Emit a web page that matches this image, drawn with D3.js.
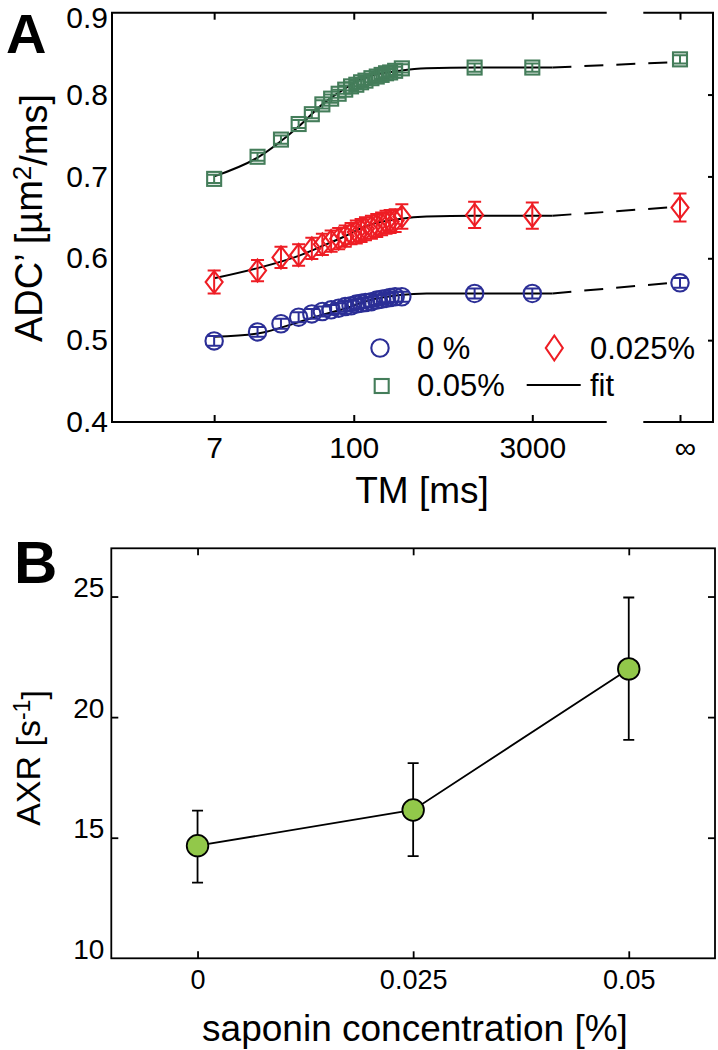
<!DOCTYPE html>
<html><head><meta charset="utf-8">
<script src="https://cdn.jsdelivr.net/npm/d3@7"></script>
<style>
body{margin:0;background:#fff}
svg{display:block}
text{font-family:"Liberation Sans",Arial,Helvetica,sans-serif;fill:#000}
</style>
</head><body>
<svg id="c" width="718" height="1050"></svg>
<script>
// ---------- Panel A data ----------
const tmValues = [7,16,25,35,45,55,65,75,85,95,105,115,125,140,155,170,185,200,220,250,1000,3000,Infinity];
const adc0   = [0.499,0.510,0.520,0.528,0.532,0.535,0.537,0.539,0.541,0.542,0.544,0.545,0.546,0.547,0.549,0.550,0.551,0.552,0.553,0.553,0.557,0.557,0.570];
const err0   = [0.006,0.006,0.006,0.006,0.006,0.006,0.006,0.006,0.006,0.006,0.006,0.006,0.006,0.006,0.006,0.006,0.006,0.006,0.006,0.006,0.006,0.006,0.006];
const adc025 = [0.571,0.585,0.601,0.604,0.612,0.617,0.621,0.624,0.627,0.630,0.632,0.634,0.636,0.638,0.640,0.642,0.644,0.645,0.646,0.651,0.653,0.652,0.662];
const err025 = [0.014,0.013,0.013,0.013,0.013,0.013,0.013,0.013,0.013,0.013,0.014,0.014,0.014,0.014,0.014,0.014,0.014,0.014,0.014,0.015,0.016,0.016,0.017];
const adc05  = [0.697,0.724,0.745,0.764,0.776,0.788,0.795,0.801,0.806,0.810,0.812,0.815,0.817,0.820,0.822,0.824,0.826,0.827,0.829,0.832,0.833,0.833,0.843];
const err05  = [0.005,0.005,0.005,0.005,0.005,0.005,0.005,0.005,0.005,0.005,0.005,0.005,0.005,0.005,0.005,0.005,0.005,0.005,0.005,0.005,0.005,0.005,0.005];

const fitTM    = [7,16,35,55,82,130,240,400,1000,4400];
const fit0     = [0.504,0.508,0.522,0.531,0.538,0.548,0.555,0.557,0.557,0.557];
const fit025   = [0.5755,0.588,0.603,0.615,0.626,0.640,0.648,0.651,0.652,0.652];
const fit05    = [0.700,0.723,0.761,0.788,0.806,0.822,0.829,0.832,0.833,0.833];
const fitInf   = [0.571,0.663,0.840];   // 0%, 0.025%, 0.05% at TM = ∞

const xTicksA = [7,100,3000];
const yTicksA = [0.4,0.5,0.6,0.7,0.8,0.9];
const seriesNames = ["0 %","0.025%","0.05%"];
const colors = ["#2b2e96","#ee1d24","#447d5a"];

// ---------- Panel B data ----------
const conc    = [0, 0.025, 0.05];
const axr     = [14.67, 16.15, 22.0];
const axrLow  = [13.14, 14.24, 19.06];
const axrHigh = [16.12, 18.09, 24.96];
const xTicksB = [0, 0.025, 0.05];
const xTickLabelsB = ["0","0.025","0.05"];
const yTicksB = [10,15,20,25];

// ---------- Drawing ----------
const svg = d3.select("#c");

// Panel A geometry
const A = {l:112, r:713, t:12.7, b:422, breakL:606.7, breakR:643.3, infX:680};
const xA = d3.scaleLog().domain([1,3000]).range([A.l, 532.3]);
const xInf = d3.scalePoint().domain(["∞"]).range([A.infX, A.infX]);
const yA = d3.scaleLinear().domain([0.4,0.9]).range([A.b, A.t]);
const xPos = d => isFinite(d) ? xA(d) : xInf("∞");

const gA = svg.append("g");

// frame (broken x axis)
const frame = gA.append("g").attr("stroke","#000").attr("stroke-width",2).attr("fill","none");
frame.append("path").attr("d",`M${A.breakL},${A.t}H${A.l}V${A.b}H${A.breakL}`);
frame.append("path").attr("d",`M${A.breakR},${A.t}H${A.r}V${A.b}H${A.breakR}`);

function styleAxis(g){ g.select(".domain").remove(); g.selectAll(".tick line").attr("stroke","#000").attr("stroke-width",2); }

// bottom ticks + labels
gA.append("g").attr("transform",`translate(0,${A.b})`)
  .call(d3.axisBottom(xA).tickValues(xTicksA).tickSize(-7).tickFormat(d3.format("d")))
  .call(styleAxis)
  .call(g=>g.selectAll("text").attr("y",36).attr("dy",null).style("font-size","30px").style("font-family","Liberation Sans, Arial"));
gA.append("g").attr("transform",`translate(0,${A.b})`)
  .call(d3.axisBottom(xInf).tickSize(-7))
  .call(styleAxis)
  .call(g=>g.selectAll("text").attr("y",36).attr("dy",null).attr("dx",5).style("font-size","30px").style("font-family","Liberation Sans, Arial"));
// top ticks
gA.append("g").attr("transform",`translate(0,${A.t})`)
  .call(d3.axisTop(xA).tickValues(xTicksA).tickSize(-7).tickFormat(""))
  .call(styleAxis);
gA.append("g").attr("transform",`translate(0,${A.t})`)
  .call(d3.axisTop(xInf).tickSize(-7).tickFormat(""))
  .call(styleAxis);
// left labels
gA.append("g").attr("transform",`translate(${A.l},0)`)
  .call(d3.axisLeft(yA).tickValues(yTicksA).tickSize(0).tickPadding(4).tickFormat(d3.format(".1f")))
  .call(styleAxis)
  .call(g=>{g.selectAll("text").style("font-size","30px").style("font-family","Liberation Sans, Arial");
            g.selectAll(".tick").filter(d=>d===0.9).select("text").attr("dy","0.5em");});
// right ticks
gA.append("g").attr("transform",`translate(${A.r},0)`)
  .call(d3.axisRight(yA).tickValues(yTicksA.slice(1,5)).tickSize(-5).tickFormat(""))
  .call(styleAxis);

// fits
const adcs = [adc0, adc025, adc05];
const errs = [err0, err025, err05];
const fits = [fit0, fit025, fit05];
const line = d3.line().curve(d3.curveMonotoneX);
fits.forEach((f,i)=>{
  gA.append("path").attr("fill","none").attr("stroke","#000").attr("stroke-width",2)
    .attr("d", line(fitTM.map((t,j)=>[xA(t), yA(f[j])])));
  gA.append("path").attr("fill","none").attr("stroke","#000").attr("stroke-width",2)
    .attr("stroke-dasharray","19,13")
    .attr("d", line([[xA(fitTM[fitTM.length-1]), yA(f[f.length-1])],[xInf("∞"), yA(fitInf[i])]]));
});

// markers
function marker(g, shape, color, cx, cy, big){
  if(shape===0){
    g.append("circle").attr("cx",cx).attr("cy",cy).attr("r",8.7)
      .attr("fill","none").attr("stroke",color).attr("stroke-width",2.1);
  } else if(shape===1){
    const hw = 8.5, hh = big?12.5:11;
    g.append("path").attr("d",`M${cx},${cy-hh}L${cx+hw},${cy}L${cx},${cy+hh}L${cx-hw},${cy}Z`)
      .attr("fill","none").attr("stroke",color).attr("stroke-width",2.1);
  } else {
    g.append("rect").attr("x",cx-7).attr("y",cy-7).attr("width",14).attr("height",14)
      .attr("fill","none").attr("stroke",color).attr("stroke-width",2.1);
  }
}
[0,1,2].forEach(i=>{
  const g = gA.append("g");
  tmValues.forEach((t,j)=>{
    const cx = xPos(t), v = adcs[i][j], e = errs[i][j];
    const y1 = yA(v+e), y2 = yA(v-e);
    g.append("path").attr("fill","none").attr("stroke",colors[i]).attr("stroke-width",2)
      .attr("d",`M${cx},${y1}V${y2}M${cx-6.5},${y1}H${cx+6.5}M${cx-6.5},${y2}H${cx+6.5}`);
    marker(g, i, colors[i], cx, yA(v), false);
  });
});

// legend
const lg = gA.append("g");
marker(lg,0,colors[0],380,348);
lg.append("text").attr("x",417).attr("y",359).style("font-size","31px").text(seriesNames[0]);
marker(lg,1,colors[1],554.3,348,true);
lg.append("text").attr("x",590).attr("y",359).style("font-size","31px").text(seriesNames[1]);
marker(lg,2,colors[2],381.7,386);
lg.append("text").attr("x",417).attr("y",396).style("font-size","31px").text(seriesNames[2]);
lg.append("line").attr("x1",526.7).attr("x2",580.7).attr("y1",385).attr("y2",385).attr("stroke","#000").attr("stroke-width",2);
lg.append("text").attr("x",590).attr("y",396).style("font-size","31px").text("fit");

// axis titles
gA.append("text").attr("x",422).attr("y",503).attr("text-anchor","middle").style("font-size","37px").text("TM [ms]");
const yt = gA.append("text").attr("transform","translate(42,218) rotate(-90)").attr("text-anchor","middle").style("font-size","38px");
yt.append("tspan").text("ADC’ [µm");
yt.append("tspan").attr("dy","-0.42em").style("font-size","26px").text("2");
yt.append("tspan").attr("dy","0.42em").text("/ms]");

svg.append("text").attr("x",6).attr("y",53).style("font-size","56px").style("font-weight","bold").text("A");

// Panel B
const B = {l:111.3, r:715, t:548.3, b:958.3};
const xB = d3.scaleLinear().domain([-0.01,0.06]).range([B.l,B.r]);
const yB = d3.scaleLinear().domain([10,27]).range([B.b,B.t]);
const gB = svg.append("g");
gB.append("rect").attr("x",B.l).attr("y",B.t).attr("width",B.r-B.l).attr("height",B.b-B.t)
  .attr("fill","none").attr("stroke","#000").attr("stroke-width",1.8);
function styleB(g){ g.select(".domain").remove(); g.selectAll(".tick line").attr("stroke","#000").attr("stroke-width",1.8); }
gB.append("g").attr("transform",`translate(0,${B.b})`)
  .call(d3.axisBottom(xB).tickValues(xTicksB).tickSize(-7).tickFormat((d,i)=>xTickLabelsB[i]))
  .call(styleB)
  .call(g=>g.selectAll("text").attr("y",31).attr("dy",null).style("font-size","27px").style("font-family","Liberation Sans, Arial"));
gB.append("g").attr("transform",`translate(0,${B.t})`)
  .call(d3.axisTop(xB).tickValues(xTicksB).tickSize(-7).tickFormat(""))
  .call(styleB);
gB.append("g").attr("transform",`translate(${B.l},0)`)
  .call(d3.axisLeft(yB).tickValues(yTicksB).tickSize(-7).tickPadding(7))
  .call(styleB)
  .call(g=>{g.selectAll("text").attr("dy",null).style("font-size","28px").style("font-family","Liberation Sans, Arial");
            g.selectAll(".tick").filter(d=>d===10).select("line").remove();});
gB.append("g").attr("transform",`translate(${B.r},0)`)
  .call(d3.axisRight(yB).tickValues(yTicksB.slice(1)).tickSize(-7).tickFormat(""))
  .call(styleB);

gB.append("path").attr("fill","none").attr("stroke","#000").attr("stroke-width",1.8)
  .attr("d", d3.line()(conc.map((c,i)=>[xB(c), yB(axr[i])])));
conc.forEach((c,i)=>{
  const cx = xB(c), y1 = yB(axrHigh[i]), y2 = yB(axrLow[i]);
  gB.append("path").attr("fill","none").attr("stroke","#000").attr("stroke-width",1.8)
    .attr("d",`M${cx},${y1}V${y2}M${cx-5.5},${y1}H${cx+5.5}M${cx-5.5},${y2}H${cx+5.5}`);
});
conc.forEach((c,i)=>{
  gB.append("circle").attr("cx",xB(c)).attr("cy",yB(axr[i])).attr("r",10.8)
    .attr("fill","#92c84a").attr("stroke","#000").attr("stroke-width",1.8);
});

gB.append("text").attr("x",415).attr("y",1041).attr("text-anchor","middle").style("font-size","37px").text("saponin concentration [%]");
const ytB = gB.append("text").attr("transform","translate(40,758) rotate(-90)").attr("text-anchor","middle").style("font-size","34px");
ytB.append("tspan").text("AXR [s");
ytB.append("tspan").attr("dy","-0.42em").style("font-size","23px").text("-1");
ytB.append("tspan").attr("dy","0.42em").text("]");

svg.append("text").attr("x",14).attr("y",583).style("font-size","60px").style("font-weight","bold").text("B");
</script>
</body></html>
